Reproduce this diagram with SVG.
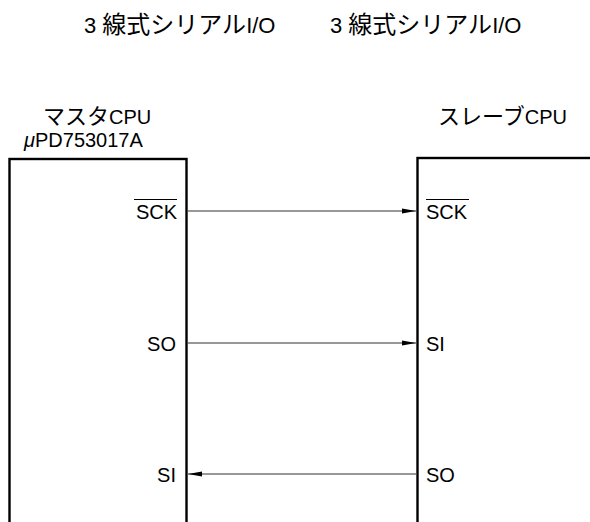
<svg xmlns="http://www.w3.org/2000/svg" width="590" height="522" viewBox="0 0 590 522">
<style>
text{font-family:"Liberation Sans","Noto Sans CJK JP",sans-serif;font-size:20px;fill:#000}
.t{font-size:22px}
.cj{font-family:"Noto Sans CJK JP",sans-serif;font-size:24px}
.cj2{font-family:"Noto Sans CJK JP",sans-serif;font-size:22px}
.box{fill:none;stroke:#000;stroke-width:2.4}
.wire{stroke:#333;stroke-width:1.2;fill:none}
.ov{stroke:#000;stroke-width:1}
</style>
<defs>
<marker id="ah" markerWidth="14" markerHeight="8" refX="14" refY="4" orient="auto" markerUnits="userSpaceOnUse">
<path d="M0,1.5 L14,4 L0,6.5 Z" fill="#000"/>
</marker>
</defs>
<g id="title">
<text class="t" x="84" y="33">3 <tspan class="cj">線式シリアル</tspan>I/O</text>
<text class="t" x="330" y="33">3 <tspan class="cj">線式シリアル</tspan>I/O</text>
</g>
<g id="master">
<text x="43" y="124"><tspan class="cj2">マスタ</tspan>CPU</text>
<text x="24" y="147"><tspan font-style="italic">μ</tspan>PD753017A</text>
<rect class="box" x="9.5" y="159" width="177" height="380"/>
<text x="177" y="219" text-anchor="end">SCK</text>
<line class="ov" x1="134" y1="199.5" x2="177" y2="199.5"/>
<text x="176" y="351" text-anchor="end">SO</text>
<text x="176" y="482" text-anchor="end">SI</text>
</g>
<g id="slave">
<text x="438" y="124"><tspan class="cj2">スレーブ</tspan>CPU</text>
<rect class="box" x="417.5" y="158" width="200" height="380"/>
<text x="426" y="219">SCK</text>
<line class="ov" x1="426" y1="199.5" x2="469" y2="199.5"/>
<text x="426" y="351">SI</text>
<text x="426" y="482">SO</text>
</g>
<g id="connectors">
<line class="wire" x1="188" y1="211" x2="416" y2="211" marker-end="url(#ah)"/>
<line class="wire" x1="188" y1="343" x2="416" y2="343" marker-end="url(#ah)"/>
<line class="wire" x1="416" y1="474" x2="188" y2="474" marker-end="url(#ah)"/>
</g>
</svg>
